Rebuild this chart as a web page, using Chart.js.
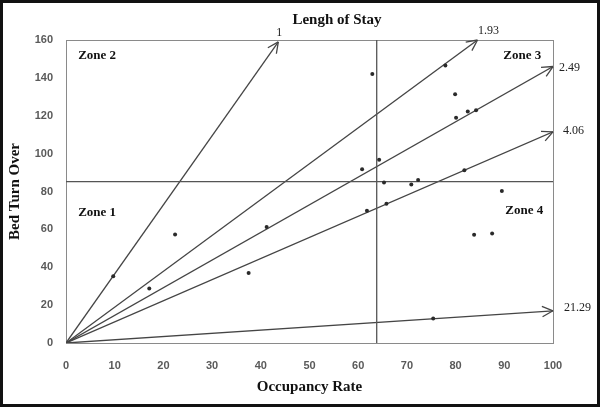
<!DOCTYPE html>
<html>
<head>
<meta charset="utf-8">
<script src="https://cdn.jsdelivr.net/npm/chart.js@4.4.0/dist/chart.umd.min.js"></script>
<style>
  html, body { margin: 0; padding: 0; background: #fff; }
  #frame { width: 600px; height: 407px; box-sizing: border-box; border: 3px solid #111; background: #fff; }
  canvas { display: block; }
</style>
</head>
<body>
<div id="frame"><canvas id="chart" width="594" height="401"></canvas></div>
<script>
// hospital wards: occupancy rate (%) vs bed turn over
const occupancy   = [9.7, 17.1, 22.4, 37.5, 41.2, 60.8, 61.8, 62.9, 64.3, 65.3, 65.8, 70.9, 72.3, 77.9, 79.9, 80.1, 81.8, 82.5, 83.8, 84.2, 87.5, 89.5, 75.4]
const bedTurnOver = [35.3, 28.8, 57.3, 36.9, 61.2, 91.8, 69.9, 142.0, 96.7, 84.7, 73.5, 83.7, 86.1, 146.6, 131.3, 119.0, 91.2, 122.2, 57.1, 122.9, 57.8, 80.2, 13.0]

// length of stay arrows (end points)
const losLabels       = ['1', '1.93', '2.49', '4.06', '21.29']
const losEndOccupancy = [43.6, 84.5, 100, 100, 100]
const losEndBTO       = [159, 160, 146, 111.5, 17]

const meanOccupancy = 63.8
const meanBTO = 85.2

const zoneLabels = ['Zone 1', 'Zone 2', 'Zone 3', 'Zone 4']

const xTicks = [0, 10, 20, 30, 40, 50, 60, 70, 80, 90, 100]
const yTicks = [0, 20, 40, 60, 80, 100, 120, 140, 160]

// where the text goes (pixel offsets / value anchors)
const losLabelOffsets = [[1, -9, 'center'], [11, -9, 'center'], [6, 1, 'left'], [10, -1, 'left'], [11, -3, 'left']]
const zoneAnchors = [[2.5, 68.7], [2.5, 151.5], [89.8, 151.5], [90.2, 69.7]]

const serif = '"Liberation Serif", "Times New Roman", serif'

const arrowSets = losLabels.map((l, i) => ({
  label: 'LOS ' + l,
  data: [{x: 0, y: 0}, {x: losEndOccupancy[i], y: losEndBTO[i]}],
  showLine: true,
  borderColor: '#454545',
  borderWidth: 1.3,
  pointRadius: 0,
  losIndex: i
}))

const overlay = {
  id: 'overlay',
  beforeDatasetsDraw(chart) {
    const {ctx, chartArea: a} = chart
    ctx.save()
    ctx.strokeStyle = '#8a8a8a'
    ctx.lineWidth = 1
    ctx.strokeRect(Math.round(a.left) + 0.5, Math.round(a.top) + 0.5, Math.round(a.right - a.left), Math.round(a.bottom - a.top))
    ctx.restore()
  },
  afterDatasetsDraw(chart) {
    const {ctx, scales: {x, y}} = chart
    ctx.save()
    chart.data.datasets.forEach((ds, i) => {
      if (ds.losIndex === undefined) return
      const k = ds.losIndex
      const pts = chart.getDatasetMeta(i).data
      const p0 = pts[0], p1 = pts[1]
      const ang = Math.atan2(p1.y - p0.y, p1.x - p0.x)
      ctx.strokeStyle = '#454545'
      ctx.lineWidth = 1.3
      ctx.beginPath()
      for (const s of [-1, 1]) {
        ctx.moveTo(p1.x, p1.y)
        ctx.lineTo(p1.x - 12 * Math.cos(ang + s * 0.45), p1.y - 12 * Math.sin(ang + s * 0.45))
      }
      ctx.stroke()
      const off = losLabelOffsets[k]
      ctx.fillStyle = '#222'
      ctx.font = '12px ' + serif
      ctx.textAlign = off[2]
      ctx.textBaseline = 'middle'
      ctx.fillText(losLabels[k], p1.x + off[0], p1.y + off[1])
    })
    // zone labels
    ctx.fillStyle = '#111'
    ctx.font = 'bold 13px ' + serif
    ctx.textAlign = 'left'
    ctx.textBaseline = 'middle'
    zoneLabels.forEach((z, i) => {
      ctx.fillText(z, x.getPixelForValue(zoneAnchors[i][0]), y.getPixelForValue(zoneAnchors[i][1]))
    })
    // top title
    ctx.font = 'bold 15px ' + serif
    ctx.textAlign = 'center'
    ctx.fillText('Lengh of Stay', 334, 17)
    ctx.restore()
  }
}

new Chart(document.getElementById('chart'), {
  type: 'scatter',
  data: {
    datasets: [
      {
        label: 'Wards',
        data: occupancy.map((v, i) => ({x: v, y: bedTurnOver[i]})),
        pointRadius: 2,
        pointBackgroundColor: '#2a2a2a',
        pointBorderWidth: 0
      },
      {
        label: 'Mean BTO',
        data: [{x: 0, y: meanBTO}, {x: 100, y: meanBTO}],
        showLine: true, borderColor: '#555', borderWidth: 1.3, pointRadius: 0
      },
      {
        label: 'Mean occupancy',
        data: [{x: meanOccupancy, y: 0}, {x: meanOccupancy, y: 160}],
        showLine: true, borderColor: '#555', borderWidth: 1.3, pointRadius: 0
      },
      ...arrowSets
    ]
  },
  options: {
    responsive: false,
    animation: false,
    layout: {padding: {top: 37, right: 44, bottom: 0, left: 0}},
    plugins: {legend: {display: false}, tooltip: {enabled: false}},
    scales: {
      x: {
        type: 'linear', min: 0, max: 100,
        afterBuildTicks: s => { s.ticks = xTicks.map(v => ({value: v})) },
        afterFit: s => { s.height = 61 },
        grid: {display: false, drawTicks: false},
        border: {display: false},
        ticks: {padding: 16, color: '#5a5a5a', font: {family: '"Liberation Sans", Arial', size: 11, weight: 'bold'}},
        title: {display: true, text: 'Occupancy Rate', color: '#111', padding: {top: 0, bottom: 8}, font: {family: serif, size: 15, weight: 'bold'}}
      },
      y: {
        type: 'linear', min: 0, max: 160,
        afterBuildTicks: s => { s.ticks = yTicks.map(v => ({value: v})) },
        afterFit: s => { s.width = 63 },
        grid: {display: false, drawTicks: false},
        border: {display: false},
        ticks: {padding: 13, color: '#5a5a5a', font: {family: '"Liberation Sans", Arial', size: 11, weight: 'bold'}},
        title: {display: true, text: 'Bed Turn Over', color: '#111', padding: {top: 3, bottom: 0}, font: {family: serif, size: 15, weight: 'bold'}}
      }
    }
  },
  plugins: [overlay]
})
</script>
</body>
</html>
